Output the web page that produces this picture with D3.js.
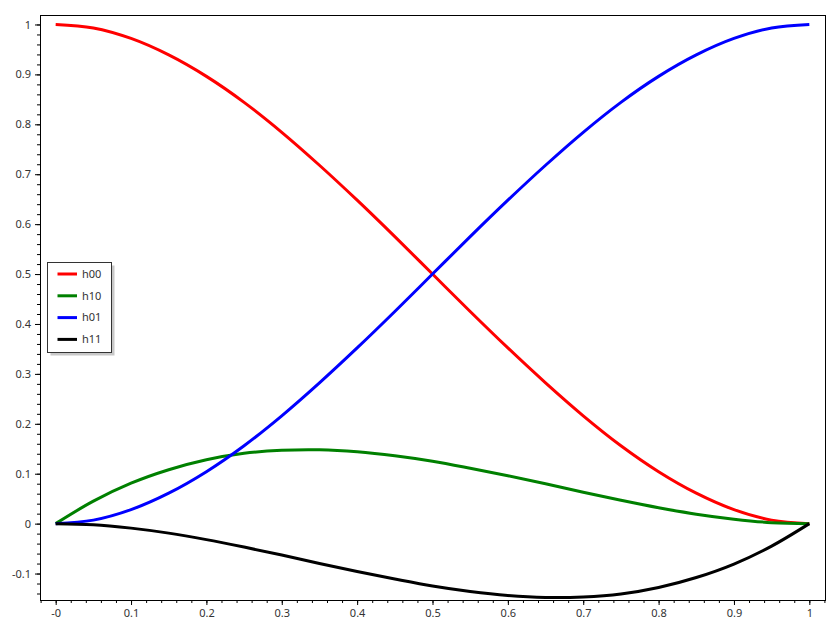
<!DOCTYPE html>
<html>
<head>
<meta charset="utf-8">
<script src="https://cdn.jsdelivr.net/npm/d3@7.9.0/dist/d3.min.js"></script>
<style>
  body { margin: 0; background: #fff; }
  svg text { font-family: "Noto Sans", "Open Sans", sans-serif; font-size: 11px; fill: #333; }
</style>
</head>
<body>
<svg id="chart" width="840" height="630"></svg>
<script>
const tValues = [0, 0.05, 0.1, 0.15, 0.2, 0.25, 0.3, 0.35, 0.4, 0.45, 0.5,
  0.55, 0.6, 0.65, 0.7, 0.75, 0.8, 0.85, 0.9, 0.95, 1];
const h00 = [1, 0.993, 0.972, 0.939, 0.896, 0.844, 0.784, 0.718, 0.648, 0.575, 0.5,
  0.425, 0.352, 0.282, 0.216, 0.156, 0.104, 0.061, 0.028, 0.007, 0];
const h10 = [0, 0.045, 0.081, 0.108, 0.128, 0.141, 0.147, 0.148, 0.144, 0.136, 0.125,
  0.111, 0.096, 0.080, 0.063, 0.047, 0.032, 0.019, 0.009, 0.002, 0];
const h01 = [0, 0.007, 0.028, 0.061, 0.104, 0.156, 0.216, 0.282, 0.352, 0.425, 0.5,
  0.575, 0.648, 0.718, 0.784, 0.844, 0.896, 0.939, 0.972, 0.993, 1];
const h11 = [0, -0.002, -0.009, -0.019, -0.032, -0.047, -0.063, -0.080, -0.096, -0.111, -0.125,
  -0.136, -0.144, -0.148, -0.147, -0.141, -0.128, -0.108, -0.081, -0.045, 0];

const seriesNames = ['h00', 'h10', 'h01', 'h11'];
const seriesColors = ['#ff0000', '#008000', '#0000ff', '#000000'];
const seriesValues = [h00, h10, h01, h11];

const xTicks = [0, 0.1, 0.2, 0.3, 0.4, 0.5, 0.6, 0.7, 0.8, 0.9, 1];
const xTickLabels = ['-0', '0.1', '0.2', '0.3', '0.4', '0.5', '0.6', '0.7', '0.8', '0.9', '1'];
const yTicks = [-0.1, 0, 0.1, 0.2, 0.3, 0.4, 0.5, 0.6, 0.7, 0.8, 0.9, 1];
const yTickLabels = ['-0.1', '0', '0.1', '0.2', '0.3', '0.4', '0.5', '0.6', '0.7', '0.8', '0.9', '1'];

const plotLeft = 40, plotTop = 15, plotRight = 825, plotBottom = 600;

const svg = d3.select('#chart');

const x = d3.scaleLinear().domain([-0.0208, 1.0208]).range([plotLeft, plotRight]);
const y = d3.scaleLinear().domain([-0.153, 1.019]).range([plotBottom, plotTop]);

// minor ticks every 0.02
const xMinor = d3.range(-0.02, 1.0201, 0.02).filter(v => x(v) >= plotLeft - 0.5 && x(v) <= plotRight + 0.5);
const yMinor = d3.range(-0.14, 1.0001, 0.02);

svg.append('g')
  .attr('transform', `translate(0,${plotBottom})`)
  .call(d3.axisBottom(x).tickValues(xMinor).tickSize(3).tickFormat(''))
  .call(g => g.select('.domain').remove())
  .call(g => g.selectAll('line').attr('stroke', '#000'));

svg.append('g')
  .attr('transform', `translate(0,${plotBottom})`)
  .call(d3.axisBottom(x).tickValues(xTicks).tickSize(5).tickPadding(4)
    .tickFormat((d, i) => xTickLabels[i]))
  .call(g => g.select('.domain').remove())
  .call(g => g.selectAll('line').attr('stroke', '#000'))
  .call(g => g.selectAll('text').attr('font-size', null).attr('font-family', null).attr('fill', null));

svg.append('g')
  .attr('transform', `translate(${plotLeft},0)`)
  .call(d3.axisLeft(y).tickValues(yMinor).tickSize(3).tickFormat(''))
  .call(g => g.select('.domain').remove())
  .call(g => g.selectAll('line').attr('stroke', '#000'));

svg.append('g')
  .attr('transform', `translate(${plotLeft},0)`)
  .call(d3.axisLeft(y).tickValues(yTicks).tickSize(5).tickPadding(4)
    .tickFormat((d, i) => yTickLabels[i]))
  .call(g => g.select('.domain').remove())
  .call(g => g.selectAll('line').attr('stroke', '#000'))
  .call(g => g.selectAll('text').attr('font-size', null).attr('font-family', null).attr('fill', null));

// plot frame
svg.append('rect')
  .attr('x', plotLeft + 0.5).attr('y', plotTop + 0.5)
  .attr('width', plotRight - plotLeft).attr('height', plotBottom - plotTop)
  .attr('fill', 'none').attr('stroke', '#000');

const line = d3.line()
  .x((d, i) => x(tValues[i]))
  .y(d => y(d))
  .curve(d3.curveCatmullRom);

const plot = svg.append('g');
seriesValues.forEach((vals, i) => {
  plot.append('path')
    .datum(vals)
    .attr('d', line)
    .attr('fill', 'none')
    .attr('stroke', seriesColors[i])
    .attr('stroke-width', 3)
    .attr('stroke-linejoin', 'round');
});

// legend
const legend = svg.append('g').attr('transform', 'translate(47.5,262.5)');
legend.append('rect')
  .attr('x', 3).attr('y', 3).attr('width', 64).attr('height', 90)
  .attr('fill', '#c8c8c8');
legend.append('rect')
  .attr('x', 0).attr('y', 0).attr('width', 64).attr('height', 90)
  .attr('fill', '#fff').attr('stroke', '#333');
seriesNames.forEach((name, i) => {
  const row = legend.append('g').attr('transform', `translate(0,${11.5 + i * 21.8})`);
  row.append('line')
    .attr('x1', 10).attr('x2', 29.5)
    .attr('stroke', seriesColors[i]).attr('stroke-width', 3);
  row.append('text')
    .attr('x', 34.5).attr('dy', '0.35em')
    .text(name);
});
</script>
</body>
</html>
